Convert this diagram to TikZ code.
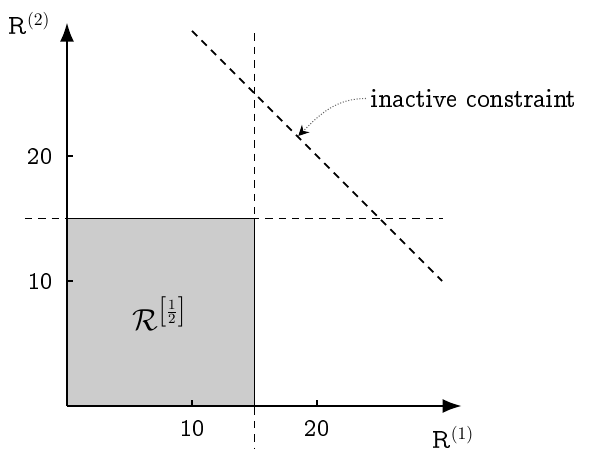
\documentclass[tikz,border=0pt]{standalone}
\usepackage[OT1]{fontenc}
\renewcommand\rmdefault{ccr}
\usetikzlibrary{arrows.meta}
\begin{document}
\begin{tikzpicture}[x=0.25cm,y=0.25cm,
  axis/.style={line width=1.6pt,-{Latex[length=11pt,width=8pt]}},
  constr/.style={line width=1pt,dash pattern=on 4.2pt off 3.4pt},
  lbl/.style={font=\fontsize{14}{16}\selectfont},
  tick/.style={line width=1pt}]
\useasboundingbox (-5.36,-3.44) rectangle (43.28,32.48);
\coordinate (O) at (0,0);
\coordinate (X) at (31.6,0);
\coordinate (Y) at (0,30.7);
\fill[black!20] (0,0) rectangle (15,15);
\draw[line width=1.1pt] (15,0) -- (15,15) -- (0,15);
% constraints
\coordinate (v1) at (15,29.8);
\coordinate (v2) at (15,-3.44);
\coordinate (h1) at (-3.36,15);
\coordinate (h2) at (30.08,15);
\coordinate (d1) at (10,30);
\coordinate (d2) at (30,10);
\draw[constr] (v1) -- (v2);
\draw[constr] (h1) -- (h2);
\draw[constr] (d1) -- (d2);
% axes
\draw[axis] (O) -- (X);
\draw[axis] (O) -- (Y);
% ticks
\foreach \v in {10,20}{
  \draw[tick] (\v,0) -- (\v,0.5);
  \draw[tick] (0,\v) -- (0.5,\v);
}
\node[lbl,anchor=north] (t10x) at (10,-0.6) {10};
\node[lbl,anchor=north] (t20x) at (20,-0.6) {20};
\node[lbl,anchor=east] (t10y) at (-0.6,10) {10};
\node[lbl,anchor=east] (t20y) at (-0.6,20) {20};
\node[lbl] (r1) at (30.9,-2.5) {R$^{(1)}$};
\node[lbl] (r2) at (-3.0,30.6) {R$^{(2)}$};
\node[font=\fontsize{16}{18}\selectfont] (reg) at (7.4,7.4) {$\mathcal{R}^{\left[\frac{1}{2}\right]}$};
\node[lbl,anchor=west,inner sep=1pt] (ic) at (24.2,24.6) {inactive constraint};
\coordinate (hit) at (18.5,21.6);
\draw[densely dotted,black!60,line width=0.6pt,-{Stealth[length=6pt,width=6pt,black]}] ([xshift=-2pt]ic.west) to[out=180,in=45] (hit);
\end{tikzpicture}
\end{document}
